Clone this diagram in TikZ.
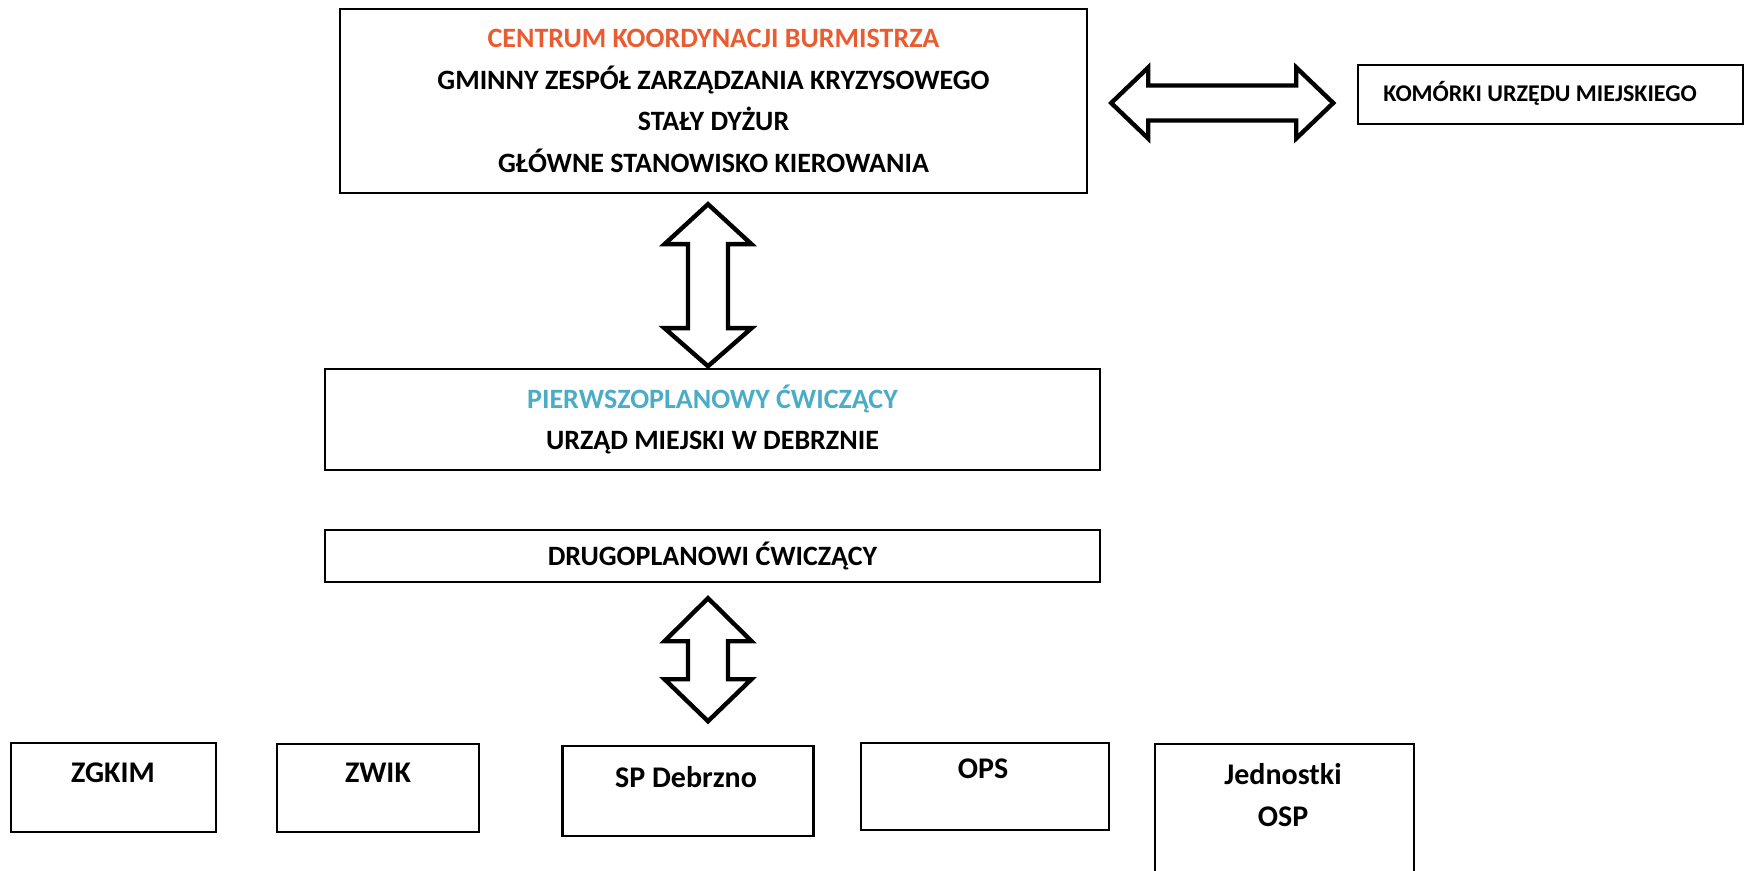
\documentclass[tikz,border=0pt]{standalone}
\usepackage{fontspec}
\setmainfont{Carlito}
\definecolor{coordorange}{RGB}{234,92,48}
\definecolor{firstblue}{RGB}{75,172,198}

\begin{document}
\begin{tikzpicture}[x=0.5pt, y=-0.5pt,
  box/.style={draw, line width=1.2pt, rectangle, inner sep=0pt},
  lbl/.style={font=\bfseries\fontsize{14}{20.8}\selectfont, align=center, inner sep=0pt},
  smalllbl/.style={font=\bfseries\fontsize{12}{14}\selectfont, inner sep=0pt},
  unitlbl/.style={font=\bfseries\fontsize{15}{21}\selectfont, align=center, inner sep=0pt},
  blockarrow/.style={draw, line width=2.2pt, fill=white, line join=miter}]

\useasboundingbox (0,0) rectangle (1748,871);

% upper level
\node[box, lbl, minimum width=373.5pt, minimum height=92pt] (ckb) at (713.5,101) {\textcolor{coordorange}{CENTRUM KOORDYNACJI BURMISTRZA}\\GMINNY ZESPÓŁ ZARZĄDZANIA KRYZYSOWEGO\\STAŁY DYŻUR\\GŁÓWNE STANOWISKO KIEROWANIA};
\node[box, minimum width=192.5pt, minimum height=29.5pt] (kum) at (1550.5,94.5) {};
\node[smalllbl, anchor=west] (kumt) at (1383,93) {KOMÓRKI URZĘDU MIEJSKIEGO};

% exercising units
\node[box, lbl, minimum width=387.5pt, minimum height=50.5pt] (pw) at (712.5,419.5) {\textcolor{firstblue}{PIERWSZOPLANOWY ĆWICZĄCY}\\URZĄD MIEJSKI W DEBRZNIE};
\node[box, lbl, minimum width=387.5pt, minimum height=26pt] (dc) at (712.5,556) {DRUGOPLANOWI ĆWICZĄCY};

% bottom row
\node[box, minimum width=102.5pt, minimum height=44.5pt] (zgkim) at (113.5,787.5) {};
\node[box, minimum width=101pt, minimum height=44pt] (zwik) at (378,788) {};
\node[box, minimum width=125.5pt, minimum height=45pt] (sp) at (688,791) {};
\node[box, minimum width=124pt, minimum height=43.5pt] (ops) at (985,786.5) {};
\node[box, minimum width=129.5pt, minimum height=78pt] (osp) at (1284.5,822) {};

\node[unitlbl] (zgkimt) at (113,773) {ZGKIM};
\node[unitlbl] (zwikt) at (378,773) {ZWIK};
\node[unitlbl] (spt) at (686,777) {SP Debrzno};
\node[unitlbl] (opst) at (983,769) {OPS};
\node[unitlbl] (ospt) at (1283,795) {Jednostki\\OSP};

% block arrows
\draw[blockarrow, shift={(ckb.east)}] (23,2) -- (60,-33.5) -- (60,-15.5) -- (208,-15.5) -- (208,-33.5) -- (245,2) -- (208,37.5) -- (208,19.5) -- (60,19.5) -- (60,37.5) -- cycle;
\draw[blockarrow, shift={(ckb.south)}] (-5.5,10) -- (38,50) -- (14.5,50) -- (14.5,134) -- (38,134) -- (-5.5,172) -- (-49,134) -- (-25.5,134) -- (-25.5,50) -- (-49,50) -- cycle;
\draw[blockarrow, shift={(dc.south)}] (-4.5,15) -- (39,58) -- (15.5,58) -- (15.5,96) -- (39,96) -- (-4.5,138) -- (-48,96) -- (-24.5,96) -- (-24.5,58) -- (-48,58) -- cycle;

\end{tikzpicture}
\end{document}
